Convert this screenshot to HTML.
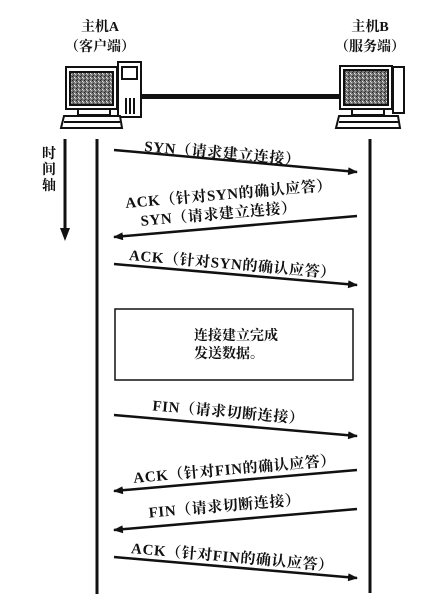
<!DOCTYPE html>
<html><head><meta charset="utf-8"><style>
body{margin:0;background:#fff}
svg{display:block}
text{font-family:"Liberation Serif","Noto Serif CJK SC",serif;font-weight:bold;fill:#111}
</style></head><body>
<svg width="446" height="611" viewBox="0 0 446 611" xmlns="http://www.w3.org/2000/svg">
<defs>
<pattern id="nz" width="4" height="4" patternUnits="userSpaceOnUse">
<rect width="4" height="4" fill="#777"/><rect x="0" y="0" width="1" height="1" fill="#222"/><rect x="2" y="1" width="1" height="1" fill="#eee"/><rect x="1" y="3" width="1" height="1" fill="#333"/><rect x="3" y="2" width="1" height="1" fill="#ccc"/><rect x="1" y="1" width="1" height="1" fill="#444"/>
</pattern>
<marker id="ah" markerWidth="10" markerHeight="8" refX="9" refY="4" orient="auto" markerUnits="userSpaceOnUse"><path d="M0,0 L10,4 L0,8 Z" fill="#111"/></marker>
</defs>
<g font-size="14">
<text x="100" y="31" text-anchor="middle">主机A</text>
<text x="100" y="51" text-anchor="middle">（客户端）</text>
<text x="370" y="31" text-anchor="middle">主机B</text>
<text x="370" y="51" text-anchor="middle">（服务端）</text>
</g>
<rect x="140" y="94" width="202" height="5" fill="#111"/>
<g stroke="#111" stroke-width="2" fill="#fff">
<rect x="118" y="62" width="23" height="55"/>
<rect x="122" y="67" width="15" height="12"/>
<path d="M126 98v16M130 98v16M134 98v16"/>
<rect x="66" y="67" width="51" height="42"/>
<rect x="70" y="72" width="43" height="33" fill="url(#nz)"/>
<rect x="78" y="109" width="32" height="6"/>
<path d="M61 128 L64 116 L120 116 L122 128 Z"/>
<path d="M64 122h56"/>
</g>
<g stroke="#111" stroke-width="2" fill="#fff">
<rect x="393" y="67" width="11" height="46"/>
<rect x="340" y="66" width="52" height="43"/>
<rect x="344" y="70" width="44" height="35" fill="url(#nz)"/>
<rect x="352" y="109" width="32" height="6"/>
<path d="M336 128 L339 116 L398 116 L400 128 Z"/>
<path d="M339 122h59"/>
</g>
<line x1="65" y1="139" x2="65" y2="232" stroke="#111" stroke-width="3"/>
<path d="M60 228 L65 241 L70 228 Z" fill="#111"/>
<g font-size="14"><text x="49" y="158" text-anchor="middle">时</text><text x="49" y="174" text-anchor="middle">间</text><text x="49" y="190" text-anchor="middle">轴</text></g>
<line x1="97" y1="139" x2="97" y2="594" stroke="#111" stroke-width="3"/>
<line x1="370" y1="139" x2="370" y2="593" stroke="#111" stroke-width="3"/>
<g stroke="#111" stroke-width="2.5" marker-end="url(#ah)">
<line x1="114" y1="150" x2="357" y2="172"/>
<line x1="357" y1="216" x2="114" y2="237"/>
<line x1="114" y1="264" x2="357" y2="285"/>
<line x1="114" y1="415" x2="357" y2="436"/>
<line x1="357" y1="470" x2="114" y2="491"/>
<line x1="357" y1="509" x2="114" y2="530"/>
<line x1="114" y1="557" x2="357" y2="578"/>
</g>
<g font-size="15" text-anchor="middle" letter-spacing="0.6">
<text transform="translate(222,158) rotate(5)">SYN（请求建立连接）</text>
<text transform="translate(229,199) rotate(-5)">ACK（针对SYN的确认应答）</text>
<text transform="translate(219,219) rotate(-5)">SYN（请求建立连接）</text>
<text transform="translate(232,269) rotate(5)">ACK（针对SYN的确认应答）</text>
<text transform="translate(228,417) rotate(5)">FIN（请求切断连接）</text>
<text transform="translate(235,474) rotate(-5)">ACK（针对FIN的确认应答）</text>
<text transform="translate(225,511) rotate(-5)">FIN（请求切断连接）</text>
<text transform="translate(232,562) rotate(5)">ACK（针对FIN的确认应答）</text>
</g>
<rect x="115" y="309" width="238" height="71" fill="#fff" stroke="#111" stroke-width="1.5"/>
<g font-size="14"><text x="194" y="340">连接建立完成</text><text x="194" y="358">发送数据。</text></g>
</svg>
</body></html>
